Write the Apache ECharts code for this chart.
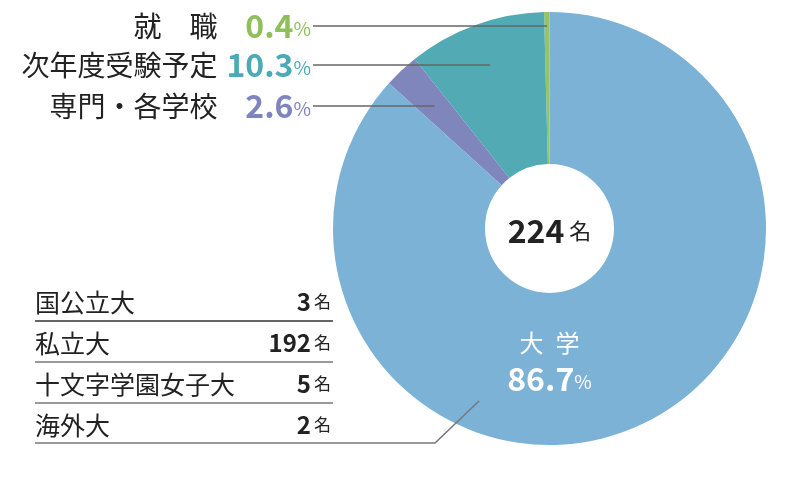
<!DOCTYPE html>
<html>
<head>
<meta charset="utf-8">
<script src="https://cdn.jsdelivr.net/npm/echarts@6/dist/echarts.min.js"></script>
<style>
  html, body { margin: 0; padding: 0; background: #fff; }
  #chart { width: 795px; height: 485px; }
</style>
</head>
<body>
<div id="chart"></div>
<script>
  // 進路データ
  const sliceNames = ['就　職', '次年度受験予定', '専門・各学校', '大学'];
  const slicePct = [0.4, 10.3, 2.6, 86.7];
  const sliceColors = ['#96c464', '#52abb4', '#7f86bc', '#7bb2d5'];
  const labelColors = ['#8fbf5a', '#4aaab5', '#7f83bf', '#ffffff'];
  const totalCount = 224;

  // 大学内訳
  const uniNames = ['国公立大', '私立大', '十文字学園女子大', '海外大'];
  const uniCounts = [3, 192, 5, 2];

  const FONT = '"Noto Sans CJK JP", "Noto Sans", sans-serif';
  const cx = 549.5, cy = 228.5, rIn = 64.5, rOut = 216.5;
  const labelY = [26, 65, 106];

  const total = slicePct.reduce((a, b) => a + b, 0);
  function midAngle(i) {
    let s = 0;
    for (let j = 0; j < i; j++) s += slicePct[j];
    return (90 + (s + slicePct[i] / 2) / total * 360) * Math.PI / 180;
  }

  const chart = echarts.init(document.getElementById('chart'));

  const graphic = [];
  // 中央の合計
  graphic.push({
    type: 'text',
    x: cx, y: cy + 2, z: 10,
    style: {
      text: '{v|' + totalCount + '}{u|名}',
      align: 'center', verticalAlign: 'middle',
      rich: {
        v: { fontFamily: FONT, fontSize: 32, fontWeight: 'bold', fill: '#222' },
        u: { fontFamily: FONT, fontSize: 22, fill: '#222', padding: [0, 0, 0, 5] }
      }
    }
  });
  // 内訳の表
  uniNames.forEach((name, i) => {
    const y = 302 + i * 41;
    graphic.push({
      type: 'text', x: 35, y: y, z: 10,
      style: { text: name, fontFamily: FONT, fontSize: 25, fill: '#222', align: 'left', verticalAlign: 'middle' }
    });
    graphic.push({
      type: 'text', x: 331, y: y, z: 10,
      style: {
        text: '{v|' + uniCounts[i] + '}{u|名}', align: 'right', verticalAlign: 'middle',
        rich: {
          v: { fontFamily: FONT, fontSize: 24, fontWeight: 'bold', fill: '#222' },
          u: { fontFamily: FONT, fontSize: 17, fill: '#222', padding: [0, 0, 0, 3] }
        }
      }
    });
    if (i < uniNames.length - 1) {
      graphic.push({
        type: 'line', z: 10,
        shape: { x1: 35, y1: y + 19, x2: 333, y2: y + 19 },
        style: { stroke: i === 0 ? '#333' : '#999', lineWidth: i === 0 ? 1.5 : 2 }
      });
    }
  });
  graphic.push({
    type: 'polyline', z: 10,
    shape: { points: [[35, 443], [435, 443], [479, 401]] },
    style: { stroke: '#777', lineWidth: 1.5, fill: null }
  });

  const pieData = sliceNames.map((n, i) => ({
    name: n,
    value: slicePct[i],
    itemStyle: { color: sliceColors[i] },
    labelLine: { show: i < 3 }
  }));

  const option = {
    backgroundColor: '#fff',
    animation: false,
    graphic: graphic,
    series: [{
      // 扇形
      type: 'pie',
      z: 2,
      center: [cx, cy],
      radius: [rIn, rOut],
      startAngle: 90,
      clockwise: false,
      silent: true,
      data: pieData,
      label: { show: false },
      labelLine: { show: false }
    }, {
      // ラベルと引き出し線（扇形の上に重ねる）
      type: 'pie',
      z: 5,
      center: [cx, cy],
      radius: [rIn, rOut],
      startAngle: 90,
      clockwise: false,
      silent: true,
      data: pieData.map(d => Object.assign({}, d, { itemStyle: { color: 'rgba(0,0,0,0)' } })),
      label: {
        show: true,
        position: 'outside',
        formatter: p => {
          const i = p.dataIndex;
          if (i === 3) return '{a|' + p.name.split('').join('\u2002') + '}\n{b|' + slicePct[i] + '}{c|%}';
          return '{n|' + p.name + '}{v' + i + '|' + slicePct[i] + '}{u' + i + '|%}';
        },
        rich: {
          n: { fontFamily: FONT, fontSize: 28, color: '#222', width: 200, align: 'right' },
          v0: { fontFamily: FONT, fontSize: 32, fontWeight: 'bold', color: labelColors[0], width: 76, align: 'right' },
          v1: { fontFamily: FONT, fontSize: 32, fontWeight: 'bold', color: labelColors[1], width: 76, align: 'right' },
          v2: { fontFamily: FONT, fontSize: 32, fontWeight: 'bold', color: labelColors[2], width: 76, align: 'right' },
          u0: { fontFamily: FONT, fontSize: 19, color: labelColors[0], align: 'right', padding: [6, 0, 0, 0] },
          u1: { fontFamily: FONT, fontSize: 19, color: labelColors[1], align: 'right', padding: [6, 0, 0, 0] },
          u2: { fontFamily: FONT, fontSize: 19, color: labelColors[2], align: 'right', padding: [6, 0, 0, 0] },
          a: { fontFamily: FONT, fontSize: 24, color: '#fff', align: 'center', lineHeight: 34 },
          b: { fontFamily: FONT, fontSize: 32, fontWeight: 'bold', color: '#fff', align: 'center', lineHeight: 38 },
          c: { fontFamily: FONT, fontSize: 19, color: '#fff', align: 'center', padding: [6, 0, 0, 0] }
        }
      },
      labelLine: {
        show: true,
        smooth: false,
        lineStyle: { color: '#666', width: 1.5 }
      },
      labelLayout: params => {
        const i = params.dataIndex;
        if (i === 3) {
          return { x: cx, y: 362, align: 'center', verticalAlign: 'middle' };
        }
        const a = midAngle(i);
        const y = labelY[i];
        const r = (cy - y) / Math.sin(a);
        const ax = cx + r * Math.cos(a);
        return {
          x: 311, y: y, align: 'right', verticalAlign: 'middle',
          labelLinePoints: [[ax, y], [ax - 1, y], [313, y]]
        };
      }
    }]
  };

  chart.setOption(option);
</script>
</body>
</html>
